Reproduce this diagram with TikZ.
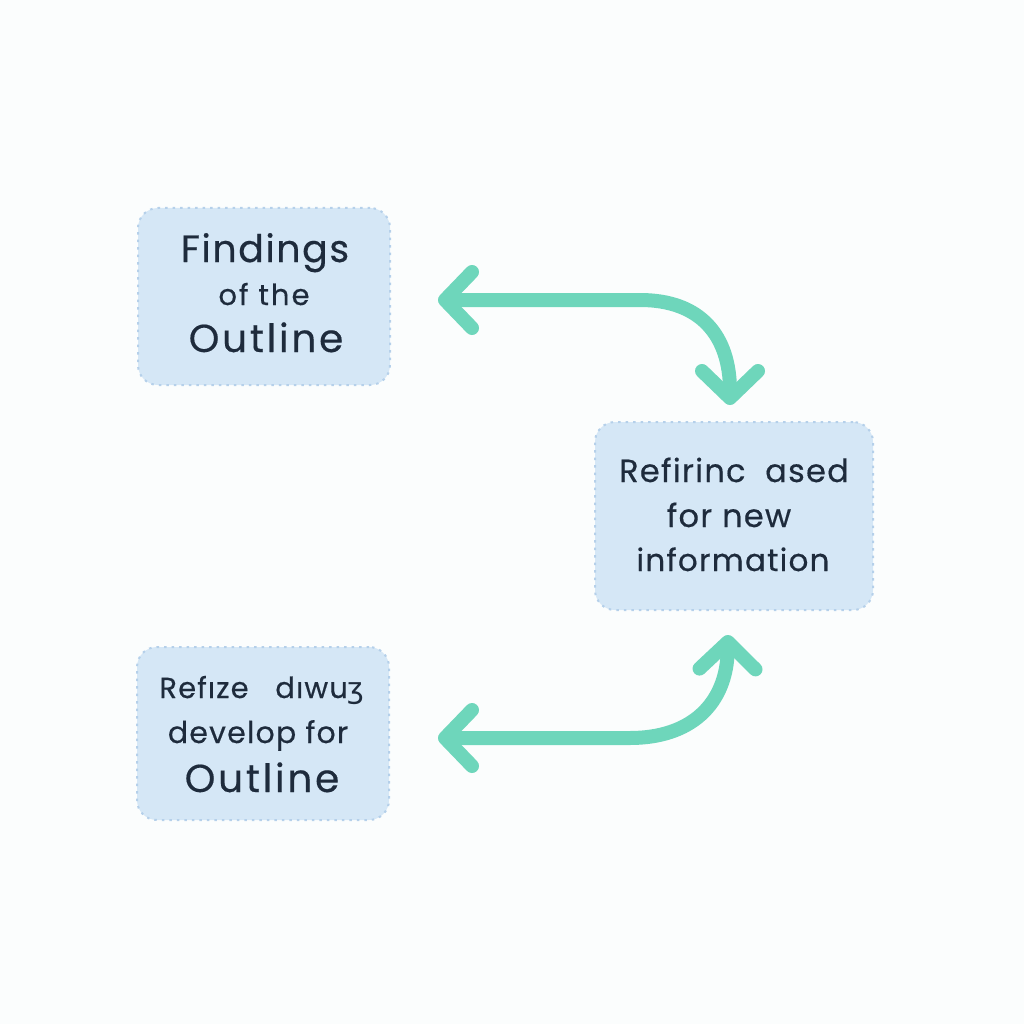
\documentclass[tikz,border=0pt]{standalone}
\usepackage{fontspec}
\setmainfont{Poppins}[LetterSpace=4,Ligatures=NoCommon,FakeBold=0.4]
\newfontfamily\widefont{Poppins}[LetterSpace=7,FakeBold=0.4]
\newfontfamily\dvs{DejaVu Sans}
\usetikzlibrary{arrows.meta}
\definecolor{bg}{HTML}{FBFDFD}
\definecolor{boxfill}{HTML}{D5E7F6}
\definecolor{boxedge}{HTML}{B5D0EA}
\definecolor{txt}{HTML}{1E2B3C}
\definecolor{arr}{HTML}{6ED6BB}
\begin{document}
\begin{tikzpicture}[x=1pt,y=-1pt,
  box/.style={fill=boxfill, draw=boxedge, line width=2pt, dash pattern=on 2.5pt off 5pt,
    rounded corners=20pt, inner sep=0pt},
  lbl/.style={anchor=base, text=txt, inner sep=0pt},
  tip/.tip={Straight Barb[length=27pt,width=56pt,line width=14pt,round]},
  conn/.style={draw=arr, line width=14pt, line cap=round, arrows={tip-tip}}]
\fill[bg] (0,0) rectangle (1024,1024);
\useasboundingbox (0,0) rectangle (1024,1024);
% boxes
\node[box, minimum width=252pt, minimum height=177pt] (b1) at (264,296.5) {};
\node[box, minimum width=278pt, minimum height=188pt] (b2) at (734,516) {};
\node[box, minimum width=252pt, minimum height=173pt] (b3) at (263,733.5) {};
% texts
\node[lbl, font=\fontsize{38}{38}\selectfont] (t1a) at (265,262) {Findings};
\node[lbl, font=\widefont\fontsize{29}{29}\selectfont] (t1b) at (264,305) {of the};
\node[lbl, font=\widefont\fontsize{39}{39}\selectfont] (t1c) at (266,352) {Outline};
\node[lbl, font=\fontsize{32}{32}\selectfont] (t2a) at (734,482) {Refirinc\ \ ased};
\node[lbl, font=\fontsize{32}{32}\selectfont] (t2b) at (729,527) {for new};
\node[lbl, font=\fontsize{31}{31}\selectfont] (t2c) at (733,571) {information};
\node[lbl, font=\fontsize{29}{29}\selectfont] (t3a) at (262,698) {Refıze\ \ \ dıwu{\dvs ʒ}};
\node[lbl, font=\fontsize{30}{30}\selectfont] (t3b) at (258,743) {develop for};
\node[lbl, font=\widefont\fontsize{39}{39}\selectfont] (t3c) at (262,792) {Outline};
% connectors
\coordinate (a1s) at (438,300);
\coordinate (a1e) at (730,405);
\coordinate (a2s) at (438,738);
\coordinate (a2e) at (728,635);
\draw[conn] (a1s) -- (640,300) .. controls (700,300) and (730,335) .. (a1e);
\draw[conn] (a2s) -- (630,738) .. controls (690,738) and (727,705) .. (a2e);
\end{tikzpicture}
\end{document}
